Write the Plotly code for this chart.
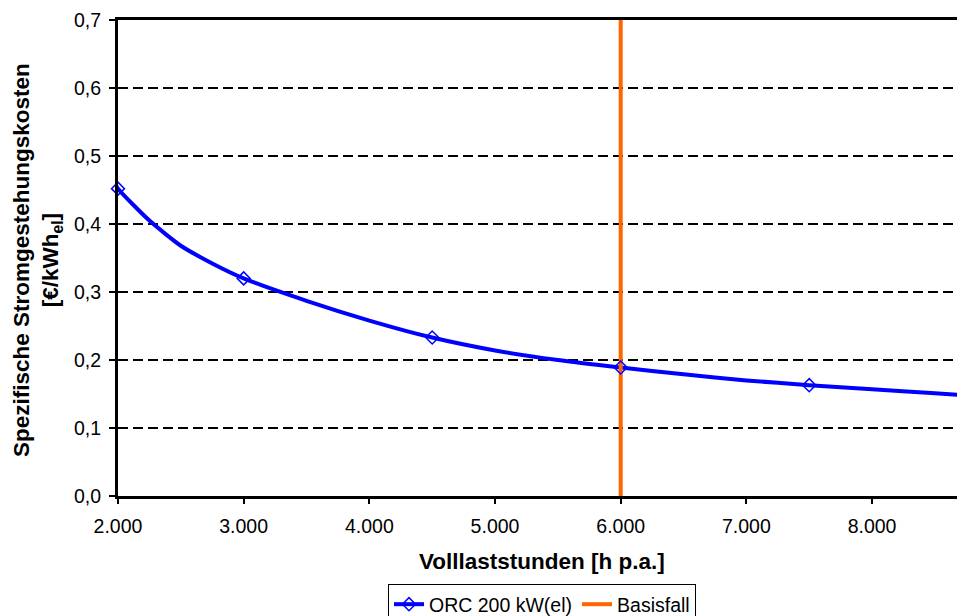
import plotly.graph_objects as go

# --- data -------------------------------------------------------------
marker_hours = [2000, 3000, 4500, 6000, 7500]
marker_cost = [0.452, 0.320, 0.233, 0.189, 0.163]

curve_hours = [1950, 2000, 2250, 2500, 2750, 3000, 3500, 4000, 4500, 5000,
               5500, 6000, 6500, 7000, 7500, 8000, 8500, 8760]
curve_cost = [0.468, 0.452, 0.405, 0.368, 0.342, 0.320, 0.287, 0.258, 0.233,
              0.214, 0.200, 0.189, 0.179, 0.170, 0.163, 0.157, 0.151, 0.148]

basis_hours = [6000, 6000]
basis_cost = [0.0, 0.7]

x_ticks = [2000, 3000, 4000, 5000, 6000, 7000, 8000]
y_ticks = [0.0, 0.1, 0.2, 0.3, 0.4, 0.5, 0.6, 0.7]

series_name = "ORC 200 kW(el)"
basis_name = "Basisfall"
x_title = "Volllaststunden [h p.a.]"
y_title_1 = "Spezifische Stromgestehungskosten"
y_title_2 = "[€/kWh<sub>el</sub>]"

BLUE = "#0000FF"
ORANGE = "#FF6600"
FONT = "Liberation Sans, Arial, sans-serif"

fig = go.Figure()

# smooth cost curve (line only)
fig.add_trace(go.Scatter(
    x=curve_hours, y=curve_cost, mode="lines",
    line=dict(color=BLUE, width=4, shape="spline", smoothing=0.6),
    showlegend=False, hoverinfo="skip"))

# Basisfall vertical line
fig.add_trace(go.Scatter(
    x=basis_hours, y=basis_cost, mode="lines", name=basis_name,
    line=dict(color=ORANGE, width=4), legendrank=2, cliponaxis=False))

# data point markers
fig.add_trace(go.Scatter(
    x=marker_hours, y=marker_cost, mode="markers",
    marker=dict(symbol="diamond-open", size=10, color=BLUE,
                line=dict(width=1.5, color=BLUE)),
    showlegend=False, cliponaxis=False))

# legend entry for the series (line + marker)
fig.add_trace(go.Scatter(
    x=[None], y=[None], mode="lines+markers", name=series_name,
    line=dict(color=BLUE, width=4),
    marker=dict(symbol="diamond-open", size=10, color=BLUE,
                line=dict(width=1.5, color=BLUE)),
    legendrank=1))

W, H = 957, 616
plot_left, plot_right, plot_top, plot_bottom = 118, 957, 20, 496
pw = plot_right - plot_left
ph = plot_bottom - plot_top

fig.update_layout(
    width=W, height=H,
    margin=dict(l=plot_left, r=W - plot_right, t=plot_top, b=H - plot_bottom, pad=0,
                autoexpand=False),
    paper_bgcolor="white", plot_bgcolor="white",
    separators=",.",
    font=dict(family=FONT, size=19.5, color="black"),
    showlegend=True,
    legend=dict(
        orientation="h", xref="container", yref="container",
        x=542 / W, xanchor="center",
        y=1 - 584 / H, yanchor="top",
        bordercolor="black", borderwidth=1, bgcolor="white",
        font=dict(family=FONT, size=19.5, color="black"),
        traceorder="normal"),
    xaxis=dict(
        range=[2000, 8676], tickvals=x_ticks, tickformat=",d",
        showgrid=False, zeroline=False,
        showline=True, linecolor="black", linewidth=3, mirror=True,
        ticks="outside", ticklen=5, tickwidth=2, tickcolor="black",
        ticklabelstandoff=6,
        tickfont=dict(family=FONT, size=19.5, color="black")),
    yaxis=dict(
        range=[0, 0.7], tickvals=y_ticks, tickformat=".1f",
        showgrid=True, gridcolor="black", gridwidth=2, griddash="10px,5px",
        zeroline=False,
        showline=True, linecolor="black", linewidth=3,
        ticks="outside", ticklen=6, tickwidth=2, tickcolor="black",
        ticklabelstandoff=4,
        tickfont=dict(family=FONT, size=19.5, color="black")),
    annotations=[
        dict(text="<b>" + x_title + "</b>", xref="paper", yref="paper",
             x=(542 - plot_left) / pw, y=(plot_bottom - 561) / ph,
             xanchor="center", yanchor="middle", showarrow=False,
             font=dict(family=FONT, size=22.5, color="black")),
        dict(text="<b>" + y_title_1 + "</b><br><b>" + y_title_2 + "</b>",
             xref="paper", yref="paper",
             x=(37 - plot_left) / pw, y=(plot_bottom - 260) / ph,
             xanchor="center", yanchor="middle", showarrow=False,
             textangle=-90,
             font=dict(family=FONT, size=22.5, color="black")),
    ],
)

fig.write_html("out.html")
